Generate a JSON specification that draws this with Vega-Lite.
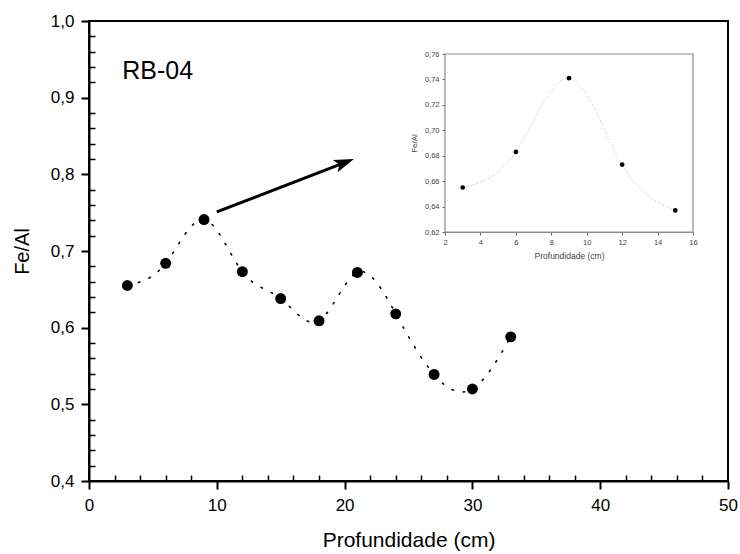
{
  "$schema": "https://vega.github.io/schema/vega-lite/v6.json",
  "width": 639,
  "height": 460,
  "autosize": {"type": "none"},
  "padding": {"left": 89, "top": 21, "right": 12, "bottom": 73},
  "background": "white",
  "config": {
    "view": {"stroke": "black", "strokeWidth": 2},
    "font": "Liberation Sans",
    "axis": {"grid": false, "ticks": true, "labelFont": "Liberation Sans", "titleFont": "Liberation Sans"}
  },
  "datasets": {
    "main": [
      {"depth": 3, "feal": 0.655},
      {"depth": 6, "feal": 0.684},
      {"depth": 9, "feal": 0.741},
      {"depth": 12, "feal": 0.673},
      {"depth": 15, "feal": 0.638},
      {"depth": 18, "feal": 0.609},
      {"depth": 21, "feal": 0.672},
      {"depth": 24, "feal": 0.618},
      {"depth": 27, "feal": 0.539},
      {"depth": 30, "feal": 0.520},
      {"depth": 33, "feal": 0.588}
    ],
    "inset": [
      {"depth": 3, "feal": 0.655},
      {"depth": 6, "feal": 0.683},
      {"depth": 9, "feal": 0.741},
      {"depth": 12, "feal": 0.673},
      {"depth": 15, "feal": 0.637}
    ],
    "arrow": [{"x": 10.0, "y": 0.751, "x2": 20.0, "y2": 0.8153}],
    "label": [{"x": 2.6, "y": 0.935, "text": "RB-04"}],
    "frame": [{"x": 2, "x2": 16, "y": 0.62, "y2": 0.76}]
  },
  "resolve": {
    "scale": {"x": "independent", "y": "independent"},
    "axis": {"x": "independent", "y": "independent"}
  },
  "layer": [
    {
      "data": {"name": "main"},
      "mark": {"type": "line", "interpolate": "natural", "color": "black", "strokeWidth": 1.6, "strokeDash": [1.5, 10], "strokeCap": "round"},
      "encoding": {
        "x": {
          "field": "depth", "type": "quantitative",
          "scale": {"domain": [0, 50], "nice": false, "zero": false},
          "axis": {
            "orient": "bottom", "values": [0, 10, 20, 30, 40, 50],
            "title": "Profundidade (cm)", "titleFontSize": 21, "titleFontWeight": "normal", "titleColor": "black", "titlePadding": 16,
            "labelFontSize": 17, "labelColor": "black", "labelPadding": 8, "labelFlush": false, "labelOverlap": false,
            "tickSize": 8, "tickWidth": 2, "tickColor": "black", "domainColor": "black", "domainWidth": 2
          }
        },
        "y": {
          "field": "feal", "type": "quantitative",
          "scale": {"domain": [0.4, 1.0], "nice": false, "zero": false},
          "axis": {
            "orient": "left", "values": [0.4, 0.5, 0.6, 0.7, 0.8, 0.9, 1.0],
            "labelExpr": "replace(format(datum.value, '.1f'), '.', ',')",
            "title": "Fe/Al", "titleFontSize": 20, "titleFontWeight": "normal", "titleColor": "black", "titlePadding": 18,
            "labelFontSize": 17, "labelColor": "black", "labelPadding": 7, "labelFlush": false, "labelOverlap": false,
            "tickSize": 8, "tickWidth": 2, "tickColor": "black", "domainColor": "black", "domainWidth": 2
          }
        }
      }
    },
    {
      "data": {"name": "main"},
      "mark": {"type": "point", "filled": true, "color": "black", "opacity": 1, "size": 120},
      "encoding": {
        "x": {
          "field": "depth", "type": "quantitative",
          "scale": {"domain": [0, 50], "nice": false, "zero": false},
          "axis": {
            "orient": "top", "offset": -460, "values": [2, 4, 6, 8, 12, 14, 16, 18, 22, 24, 26, 28, 32, 34, 36, 38, 42, 44, 46, 48],
            "labels": false, "domain": false, "title": null, "ticks": true, "tickSize": 6, "tickWidth": 1.5, "tickColor": "black"
          }
        },
        "y": {
          "field": "feal", "type": "quantitative",
          "scale": {"domain": [0.4, 1.0], "nice": false, "zero": false},
          "axis": {
            "orient": "right", "offset": -639, "values": [0.42, 0.44, 0.46, 0.48, 0.52, 0.54, 0.56, 0.58, 0.62, 0.64, 0.66, 0.68, 0.72, 0.74, 0.76, 0.78, 0.82, 0.84, 0.86, 0.88, 0.92, 0.94, 0.96, 0.98],
            "labels": false, "domain": false, "title": null, "ticks": true, "tickSize": 6, "tickWidth": 1.5, "tickColor": "black"
          }
        }
      }
    },
    {
      "data": {"name": "arrow"},
      "mark": {"type": "rule", "color": "black", "strokeWidth": 3},
      "encoding": {
        "x": {"field": "x", "type": "quantitative", "scale": {"domain": [0, 50], "nice": false, "zero": false}, "axis": null},
        "y": {"field": "y", "type": "quantitative", "scale": {"domain": [0.4, 1.0], "nice": false, "zero": false}, "axis": null},
        "x2": {"field": "x2"},
        "y2": {"field": "y2"}
      }
    },
    {
      "data": {"name": "arrow"},
      "mark": {"type": "point", "shape": "M1,0 L-1,-0.65 L-0.55,0 L-1,0.65 Z", "filled": true, "color": "black", "opacity": 1, "size": 400, "angle": 339},
      "encoding": {
        "x": {"field": "x2", "type": "quantitative", "scale": {"domain": [0, 50], "nice": false, "zero": false}, "axis": null},
        "y": {"field": "y2", "type": "quantitative", "scale": {"domain": [0.4, 1.0], "nice": false, "zero": false}, "axis": null}
      }
    },
    {
      "data": {"name": "label"},
      "mark": {"type": "text", "align": "left", "baseline": "middle", "fontSize": 25, "color": "black", "font": "Liberation Sans"},
      "encoding": {
        "x": {"field": "x", "type": "quantitative", "scale": {"domain": [0, 50], "nice": false, "zero": false}, "axis": null},
        "y": {"field": "y", "type": "quantitative", "scale": {"domain": [0.4, 1.0], "nice": false, "zero": false}, "axis": null},
        "text": {"field": "text"}
      }
    },
    {
      "data": {"name": "frame"},
      "mark": {"type": "rect", "fill": "white", "stroke": "#8a8a8a", "strokeWidth": 1.2},
      "encoding": {
        "x": {"field": "x", "type": "quantitative", "scale": {"domain": [2, 16], "range": [356, 604], "nice": false, "zero": false}, "axis": null},
        "x2": {"field": "x2"},
        "y": {"field": "y", "type": "quantitative", "scale": {"domain": [0.62, 0.76], "range": [211, 33], "nice": false, "zero": false}, "axis": null},
        "y2": {"field": "y2"}
      }
    },
    {
      "data": {"name": "inset"},
      "mark": {"type": "line", "interpolate": "natural", "color": "#b8b8b8", "strokeWidth": 1, "strokeDash": [1, 2]},
      "encoding": {
        "x": {
          "field": "depth", "type": "quantitative",
          "scale": {"domain": [2, 16], "range": [356, 604], "nice": false, "zero": false},
          "axis": {
            "orient": "bottom", "offset": -249, "values": [2, 4, 6, 8, 10, 12, 14, 16],
            "title": "Profundidade (cm)", "titleFontSize": 8.5, "titleFontWeight": "normal", "titleColor": "#444", "titlePadding": 6,
            "labelFontSize": 7.5, "labelColor": "#444", "labelPadding": 3, "labelFlush": false, "labelOverlap": false,
            "tickSize": 3, "tickWidth": 1, "tickColor": "#666", "domainColor": "#8a8a8a", "domainWidth": 1.2
          }
        },
        "y": {
          "field": "feal", "type": "quantitative",
          "scale": {"domain": [0.62, 0.76], "range": [211, 33], "nice": false, "zero": false},
          "axis": {
            "orient": "left", "offset": -356, "values": [0.62, 0.64, 0.66, 0.68, 0.70, 0.72, 0.74, 0.76],
            "labelExpr": "replace(format(datum.value, '.2f'), '.', ',')",
            "title": "Fe/Al", "titleFontSize": 8, "titleFontWeight": "normal", "titleColor": "#444", "titlePadding": 6,
            "labelFontSize": 7.5, "labelColor": "#444", "labelPadding": 3, "labelFlush": false, "labelOverlap": false,
            "tickSize": 3, "tickWidth": 1, "tickColor": "#666", "domainColor": "#8a8a8a", "domainWidth": 1.2
          }
        }
      }
    },
    {
      "data": {"name": "inset"},
      "mark": {"type": "point", "filled": true, "color": "black", "opacity": 1, "size": 22},
      "encoding": {
        "x": {"field": "depth", "type": "quantitative", "scale": {"domain": [2, 16], "range": [356, 604], "nice": false, "zero": false}, "axis": null},
        "y": {"field": "feal", "type": "quantitative", "scale": {"domain": [0.62, 0.76], "range": [211, 33], "nice": false, "zero": false}, "axis": null}
      }
    }
  ]
}
